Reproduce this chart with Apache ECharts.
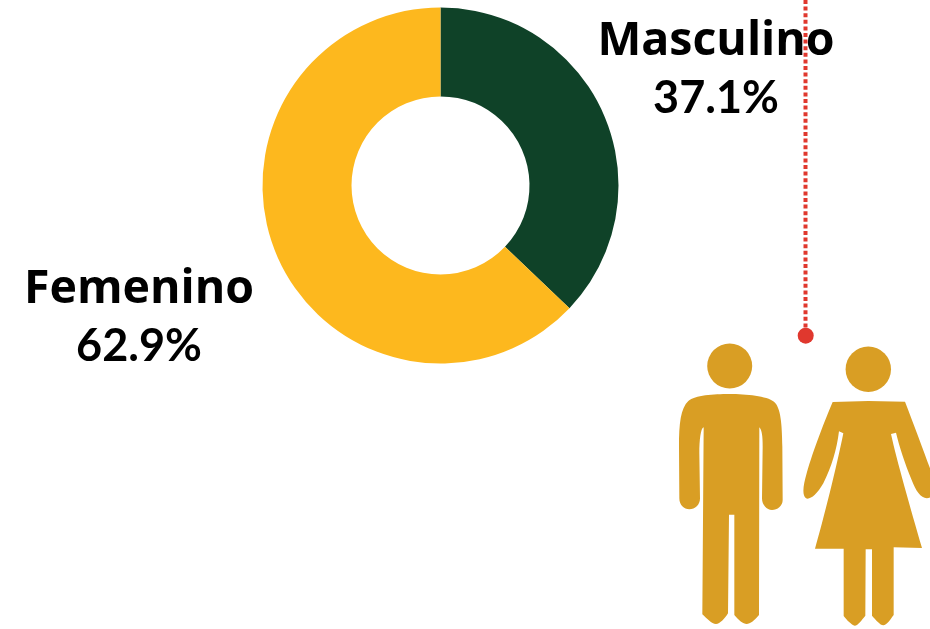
<!DOCTYPE html>
<html><head><meta charset="utf-8">
<style>html,body{margin:0;padding:0;background:#fff}#c{width:930px;height:629px}</style>
<script src="https://cdn.jsdelivr.net/npm/echarts@6/dist/echarts.min.js"></script>
</head><body><div id="c"></div>
<script>
const categories = ['Masculino', 'Femenino'];
const shares = [37.1, 62.9];
const sliceColors = ['#0F4228', '#FDB81E'];
const labelSpots = [[716, 70], [139, 318]];
const gold = '#D99E24', red = '#E0382E';
const manBody = 'M208,222C260,222 320,228 342,245C362,262 366,310 367,380L368,540C368,558 352,570 336,570C320,570 306,555 306,535L308,380C308,350 306,330 298,322L297,885C285,900 270,912 260,912C250,912 235,900 223,885L223,584L207,584L204,880C195,895 180,912 168,912C155,912 140,895 127,883L131,322C122,325 118,360 118,400L120,535C120,555 105,568 88,568C72,568 58,555 58,535L57,380C57,310 62,265 85,243C105,225 160,222 208,222Z';
const womanBody = 'M518,246L625,243L735,245C760,310 790,390 810,445L815,530C790,545 770,520 755,480C735,430 718,380 708,338L693,342C710,420 750,560 786,684L701,682L701,885C690,900 680,915 670,916C660,915 648,900 636,887L636,688L617,688L616,887C605,900 595,916 584,917C575,915 560,900 551,888L551,686L465,686C490,600 530,440 550,340L537,334C530,390 515,440 490,490C470,525 450,540 438,535C425,525 430,495 440,460C460,390 495,300 518,246Z';

echarts.graphic.registerShape('manBody', echarts.graphic.extendPath(manBody, {}));
echarts.graphic.registerShape('womanBody', echarts.graphic.extendPath(womanBody, {}));

const chart = echarts.init(document.getElementById('c'), null, {renderer: 'canvas'});
function pathEl(t) {
  return {type: t, x: 660, y: 320, scaleX: 1/3, scaleY: 1/3, shape: {}, style: {fill: gold}, silent: true};
}
chart.setOption({
  animation: false,
  backgroundColor: '#fff',
  series: [{
    type: 'pie', center: [440.5, 185.5], radius: [89, 178], startAngle: 90, clockwise: true,
    silent: true,
    data: categories.map((n, i) => ({name: n, value: shares[i], itemStyle: {color: sliceColors[i]}})),
    label: {show: true, position: 'outside', overflow: 'none', formatter: p => '{n|' + p.name + '}\n{p|' + p.value.toFixed(1) + '%}',
      color: '#000', align: 'center', verticalAlign: 'middle',
      rich: {
        n: {fontFamily: 'Open Sans', fontWeight: 'bold', fontSize: 46.5, lineHeight: 57, color: '#000', align: 'center'},
        p: {fontFamily: 'Lato', fontWeight: 'bold', fontSize: 45, lineHeight: 57, color: '#000', align: 'center'}
      }},
    labelLine: {show: false},
    labelLayout: p => {
      const s = labelSpots[p.dataIndex];
      return {x: s[0], y: s[1], align: 'center', verticalAlign: 'middle'};
    }
  }],
  graphic: {elements: [
    pathEl('manBody'), pathEl('womanBody'),
    {type: 'circle', shape: {cx: 729.7, cy: 366, r: 22.5}, style: {fill: gold}, silent: true},
    {type: 'circle', shape: {cx: 868.3, cy: 369.3, r: 22.7}, style: {fill: gold}, silent: true},
    {type: 'line', z: 50, shape: {x1: 805.5, y1: 0, x2: 805.5, y2: 332}, style: {stroke: red, lineWidth: 4, lineDash: [4, 2.6]}, silent: true},
    {type: 'circle', z: 50, shape: {cx: 805.7, cy: 335.7, r: 8}, style: {fill: red}, silent: true}
  ]}
});
</script></body></html>
